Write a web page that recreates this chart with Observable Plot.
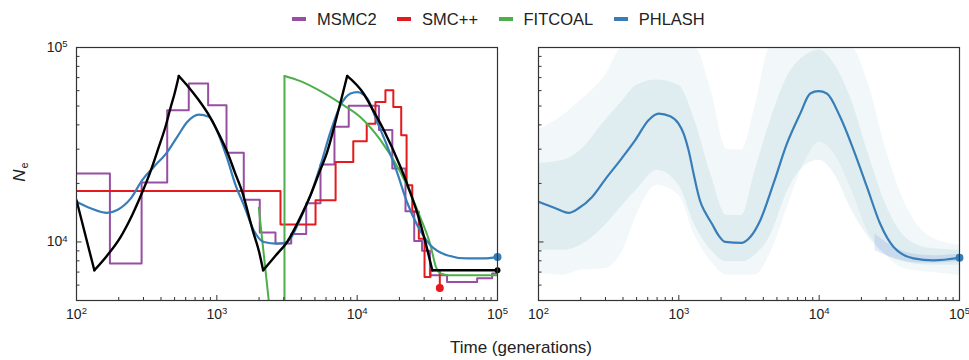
<!DOCTYPE html>
<html><head><meta charset="utf-8">
<script src="https://cdn.jsdelivr.net/npm/d3@7"></script>
<script src="https://cdn.jsdelivr.net/npm/@observablehq/plot@0.6"></script>
<style>
body{margin:0;background:#fff;}
#wrap{position:relative;width:969px;height:360px;font-family:"Liberation Sans",Arial,sans-serif;color:#222;overflow:hidden;background:#fff;}
#legend{position:absolute;left:292px;top:9px;height:20px;display:flex;align-items:center;font-size:16.5px;line-height:20px;}
.item{display:flex;align-items:center;margin-right:20.5px;}
.sw{width:14px;height:4px;margin-right:11px;}
#left,#right{position:absolute;top:0;}
#left{left:0;} #right{left:510px;}
#xlabel{position:absolute;top:338px;left:421px;width:200px;text-align:center;font-size:17px;line-height:20px;}
#ylabel{position:absolute;left:-10px;top:162px;width:60px;height:20px;line-height:20px;text-align:center;font-size:17px;transform:rotate(-90deg);}
#ylabel sub{font-size:11px;vertical-align:-3px;margin-left:1px;}
</style>
</head><body>
<div id="wrap">
  <div id="legend"></div>
  <div id="left"></div>
  <div id="right"></div>
  <div id="ylabel"><i>N</i><sub>e</sub></div>
  <div id="xlabel">Time (generations)</div>
</div>
<script>
// ---------- legend ----------
const legendNames = ["MSMC2", "SMC++", "FITCOAL", "PHLASH"];
const legendColors = ["#984ea3", "#e41a1c", "#4daf4a", "#377eb8"];

// ---------- axes ----------
const xTickVals = [100, 1000, 10000, 100000];
const xTickExp = ["2", "3", "4", "5"];
const xMinor = [200,300,400,500,600,700,800,900,2000,3000,4000,5000,6000,7000,8000,9000,20000,30000,40000,50000,60000,70000,80000,90000];
const yTickVals = [10000, 100000];
const yTickExp = ["4", "5"];
const yMinor = [6000,7000,8000,9000,20000,30000,40000,50000,60000,70000,80000,90000];

// ---------- MSMC2 (step) ----------
const msmcT = [100,173,291,443,631,867,1172,1556,2023,2618,3389,4335,5480,6890,8710,14300,17800,22100,25500,29000,33000,43700,71600,91600,100000];
const msmcN = [22500,7740,20200,47600,65300,50400,28800,16500,11200,9810,11000,15800,25000,39100,50100,37600,23900,14400,10100,9000,6750,6220,6500,6890,6890];

// ---------- SMC++ (step) ----------
const smcT = [100,2842,5050,7020,9380,11700,13500,15900,18100,20600,22500,24700,27500,30200,33300,38800];
const smcN = [18300,12300,16400,25800,33000,40600,52500,60300,49400,35400,19600,14300,10400,6610,7150,5800];

// ---------- FITCOAL ----------
const fitT = [1990,2163,2344, 3034,3034, 3034,3946,5479,7607,10562,14665,20362,28271,33313,36500,39254,45000,100000];
const fitN = [15000,8550,5000, 5000,71400, 71400,67100,59600,51600,43800,33400,22800,13300,9620,7400,6900,6750,6750];
const fitSeg = [1,1,1, 2,2, 3,3,3,3,3,3,3,3,3,3,3,3,3];

// ---------- True model (black) ----------
const trueT = [100,134, 134,165,206,250,294,340,386,430,468,500,536, 536,630,724,901,1062,1186,1350,1517,1800,2000,2138, 2138,2600,3170,4000,4650,5400,6110,7210,7800,8490, 8490,11100,13000,15500,20400,23500,26800,30500,34300, 34300,100000];
const trueN = [16400,7150, 7150,8500,10600,13800,18000,23500,30800,39000,49000,58000,71400, 71400,62500,55000,43500,34500,29000,22600,18100,11500,8900,7150, 7150,8450,10000,13700,17400,23000,29000,45000,56000,71400, 71400,58000,47500,37500,24200,18600,14100,10100,7150, 7150,7150];
const trueSeg = [1,1, 2,2,2,2,2,2,2,2,2,2,2, 3,3,3,3,3,3,3,3,3,3,3, 4,4,4,4,4,4,4,4,4,4, 5,5,5,5,5,5,5,5,5, 6,6];

// ---------- PHLASH median, left panel ----------
const phlT = [100,126,165,195,243,294,355,443,522,615,743,877,1008,1186,1360,1556,1830,2163,2690,3170,3946,4650,5480,6456,7607,8964,10000,11800,13900,16300,19200,22600,26800,33300,43700,60500,80000,100000];
const phlN = [16100,14900,14100,14600,16700,20800,24300,29000,34700,41400,45200,44000,37000,26800,19600,15500,11500,10000,9810,10000,13200,17400,24800,36800,50400,58000,59000,54700,41400,31400,22900,16100,12200,9620,8550,8230,8230,8370];

// ---------- PHLASH median, right panel ----------
const phrT = [100,132,164,193,240,299,393,489,608,717,868,995,1080,1172,1273,1345,1420,1541,1721,1919,2138,2812,3227,3800,4730,5890,7330,8640,9890,11340,14100,17600,21900,27200,33900,47000,65300,100000];
const phrN = [16100,14900,14100,14900,17000,21000,27000,33400,42300,45700,44300,40600,36200,29700,22500,18800,16200,14200,12400,10800,10000,9900,10600,12900,20000,32000,45700,58000,59600,58000,44000,29700,19200,12400,9420,8230,8050,8300];

// ---------- PHLASH posterior cloud (right panel) ----------
const bandT   = [100,150,200,300,400,500,700,1000,1300,1700,2200,2800,3500,4500,6000,8000,10000,13000,17000,22000,30000,40000,60000,100000];
const outerLo = [6900,6750,7150,7300,9060,13700,19600,17400,10800,7900,6750,6750,6750,8780,15400,26300,32600,27900,18500,11500,8550,7300,7000,6750];
const outerHi = [37600,44900,53600,72000,100000,100000,100000,100000,100000,60000,30000,29700,50000,100000,100000,100000,100000,100000,100000,68000,29700,16400,10800,9620];
const innerLo = [9060,9060,9620,12200,15500,18500,23400,19600,12200,9060,7900,7900,8550,10800,18500,24800,26300,22000,14600,10800,8550,7900,7600,7600];
const innerHi = [25300,26300,29700,42300,53600,64000,68000,64000,42300,22000,13700,13700,23400,42300,72000,91000,97000,81000,53600,29700,15500,10800,9300,9060];
const tailT  = [25000,35000,50000,70000,100000];
const tailLo = [9000,8200,7800,7800,7900];
const tailHi = [11000,9300,8600,8500,8700];

// ---------- build tables ----------
const zip = (T, N, S) => T.map((t, i) => ({t, n: N[i], s: S ? S[i] : 0}));
const msmc = zip(msmcT, msmcN);
const smc = zip(smcT, smcN);
const fit = zip(fitT, fitN, fitSeg);
const truth = zip(trueT, trueN, trueSeg);
const phl = zip(phlT, phlN);
const phr = zip(phrT, phrN);
const band = bandT.map((t, i) => ({t, olo: outerLo[i], ohi: outerHi[i], ilo: innerLo[i], ihi: innerHi[i]}));
const tail = tailT.map((t, i) => ({t, lo: tailLo[i], hi: tailHi[i]}));
const [cM, cS, cF, cP] = legendColors;

// legend
const lg = d3.select("#legend");
legendNames.forEach((name, i) => {
  const it = lg.append("div").attr("class", "item");
  it.append("div").attr("class", "sw").style("background", legendColors[i]);
  it.append("span").text(name);
});

const FONT = '"Liberation Sans", Arial, sans-serif';
const axisMarks = (withYLabels) => [
  Plot.axisX({ticks: xTickVals, tickSize: -5, fill: "none", label: null, stroke: "#333"}),
  Plot.axisX({ticks: xMinor, tickSize: -3, fill: "none", label: null, stroke: "#333"}),
  Plot.axisY({ticks: yTickVals, tickSize: -5.5, fill: "none", label: null, stroke: "#333"}),
  Plot.axisY({ticks: yMinor, tickSize: -3.5, fill: "none", label: null, stroke: "#333"}),
  Plot.text(xTickVals, {x: d => d, frameAnchor: "bottom", dy: 18, text: (d, i) => "10^" + xTickExp[i], fontSize: 14, fill: "#222"}),
  withYLabels ? Plot.text(yTickVals, {y: d => d, frameAnchor: "left", dx: -9, textAnchor: "end", text: (d, i) => "10^" + yTickExp[i], fontSize: 14, fill: "#222"}) : null,
  Plot.frame({stroke: "#333", strokeWidth: 1.2})
];

const common = {
  height: 330, marginTop: 47, marginBottom: 30,
  x: {type: "log", domain: [100, 100000]},
  y: {type: "log", domain: [5000, 100000]},
  style: {fontFamily: FONT, fontSize: "14px", background: "transparent", overflow: "visible"}
};

const left = Plot.plot({
  ...common, width: 510, marginLeft: 76, marginRight: 13,
  marks: [
    Plot.line(msmc, {x: "t", y: "n", curve: "step-after", stroke: cM, strokeWidth: 2, clip: true}),
    Plot.line(smc, {x: "t", y: "n", curve: "step-after", stroke: cS, strokeWidth: 2, clip: true}),
    Plot.dot([smc[smc.length - 1]], {x: "t", y: "n", r: 4, fill: cS, clip: true}),
    Plot.line(fit, {x: "t", y: "n", z: "s", curve: "monotone-x", stroke: cF, strokeWidth: 2, clip: true}),
    Plot.line(phl, {x: "t", y: "n", curve: "monotone-x", stroke: cP, strokeWidth: 2.2, clip: true}),
    Plot.dot([phl[phl.length - 1]], {x: "t", y: "n", r: 4, fill: cP}),
    Plot.line(truth, {x: "t", y: "n", z: "s", curve: "monotone-x", stroke: "#000", strokeWidth: 2.4, clip: true}),
    Plot.dot([truth[truth.length - 1]], {x: "t", y: "n", r: 3, fill: "#000"}),
    ...axisMarks(true)
  ].filter(Boolean)
});

const right = Plot.plot({
  ...common, width: 459, marginLeft: 28, marginRight: 10,
  marks: [
    Plot.areaY(band, {x: "t", y1: "olo", y2: "ohi", curve: "monotone-x", fill: "#5fa8b5", fillOpacity: 0.08, clip: true}),
    Plot.areaY(band, {x: "t", y1: "ilo", y2: "ihi", curve: "monotone-x", fill: "#5fa8b5", fillOpacity: 0.12, clip: true}),
    Plot.areaY(tail, {x: "t", y1: "lo", y2: "hi", curve: "monotone-x", fill: "#4a6fd8", fillOpacity: 0.15, clip: true}),
    Plot.line(phr, {x: "t", y: "n", curve: "monotone-x", stroke: cP, strokeWidth: 2.2, clip: true}),
    Plot.dot([phr[phr.length - 1]], {x: "t", y: "n", r: 4, fill: cP}),
    ...axisMarks(false)
  ].filter(Boolean)
});

// superscript exponents in tick labels
function supify(svg) {
  d3.select(svg).selectAll("text").each(function () {
    const m = /^10\^(\d)$/.exec(this.textContent);
    if (m) {
      const s = d3.select(this);
      s.text(null);
      s.append("tspan").text("10");
      s.append("tspan").attr("dy", "-0.5em").attr("font-size", "0.68em").text(m[1]);
    }
  });
}
supify(left); supify(right);
document.getElementById("left").appendChild(left);
document.getElementById("right").appendChild(right);
</script>
</body></html>
